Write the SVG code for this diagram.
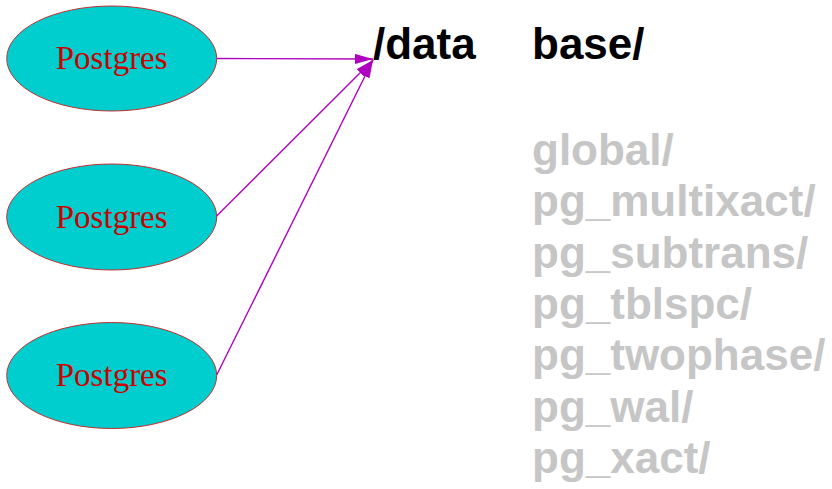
<svg xmlns="http://www.w3.org/2000/svg" width="832" height="489" viewBox="0 0 832 489">
  <style>
    .node ellipse { fill: #00cdcd; stroke: #c03030; stroke-width: 1; }
    .node text { font-family: "Liberation Serif", "Times New Roman", serif; font-size: 33px; fill: #cd0000; text-anchor: middle; }
    .edge { stroke: #b000c0; stroke-width: 1.4; fill: none; }
    .dir { font-family: "Liberation Sans", Arial, sans-serif; font-weight: bold; font-size: 44px; }
    .black { fill: #000000; }
    .gray { fill: #c6c6c6; }
  </style>
  <defs>
    <marker id="arrow" markerUnits="userSpaceOnUse" markerWidth="20" markerHeight="12" refX="18" refY="5" orient="auto">
      <path d="M0,0 L18,5 L0,10 z" fill="#b000c0"/>
    </marker>
  </defs>
  <rect width="832" height="489" fill="#ffffff"/>
  <g id="connectors">
    <line class="edge" x1="216.7" y1="58.5" x2="373" y2="59" marker-end="url(#arrow)"/>
    <line class="edge" x1="216.7" y1="216" x2="373" y2="60" marker-end="url(#arrow)"/>
    <line class="edge" x1="216.7" y1="375" x2="373" y2="60" marker-end="url(#arrow)"/>
  </g>
  <g id="postgres1" class="node">
    <ellipse cx="111.7" cy="58.5" rx="105" ry="52.5"/>
    <text x="111.7" y="68.5">Postgres</text>
  </g>
  <g id="postgres2" class="node">
    <ellipse cx="111.7" cy="217" rx="105" ry="53"/>
    <text x="111.7" y="227.5">Postgres</text>
  </g>
  <g id="postgres3" class="node">
    <ellipse cx="111.7" cy="375.5" rx="105" ry="53"/>
    <text x="111.7" y="386">Postgres</text>
  </g>
  <g id="data">
    <text class="dir black" x="373" y="59">/data</text>
  </g>
  <g id="dirs">
    <text class="dir black" x="532" y="59">base/</text>
    <text class="dir gray" x="532" y="165">global/</text>
    <text class="dir gray" x="532" y="216.3">pg_multixact/</text>
    <text class="dir gray" x="532" y="267.6">pg_subtrans/</text>
    <text class="dir gray" x="532" y="318.9">pg_tblspc/</text>
    <text class="dir gray" x="532" y="370.2">pg_twophase/</text>
    <text class="dir gray" x="532" y="421.5">pg_wal/</text>
    <text class="dir gray" x="532" y="472.8">pg_xact/</text>
  </g>
</svg>
